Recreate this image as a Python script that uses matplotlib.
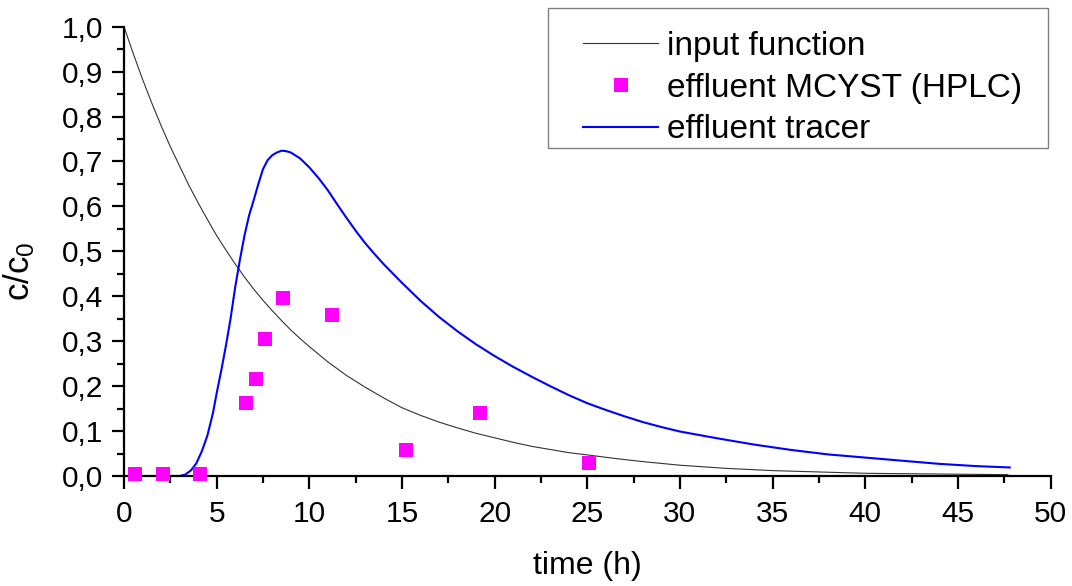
import matplotlib
matplotlib.use("Agg")
import matplotlib.pyplot as plt
from matplotlib.patches import Rectangle
from matplotlib.ticker import MultipleLocator, FuncFormatter

plt.rcParams['font.family'] = ['Liberation Sans', 'DejaVu Sans']
plt.rcParams['mathtext.default'] = 'regular'

# input function
t_input = [0, 0.5, 1, 1.5, 2, 2.5, 3, 3.5, 4, 4.5, 5, 5.5, 6, 6.5, 7, 7.5, 8, 8.5, 9,
           9.5, 10, 11, 12, 13, 14, 15, 16, 17, 18, 19, 20, 21, 22, 23, 24, 25, 26.5,
           28, 30, 32.5, 35, 37.5, 40, 42.5, 45, 47.7]
c_input = [1.0, 0.94, 0.883, 0.83, 0.78, 0.733, 0.69, 0.647, 0.608, 0.571, 0.535, 0.503,
           0.472, 0.443, 0.416, 0.391, 0.368, 0.346, 0.325, 0.306, 0.288, 0.254, 0.224,
           0.198, 0.174, 0.152, 0.135, 0.12, 0.107, 0.095, 0.085, 0.075, 0.066, 0.059,
           0.052, 0.047, 0.039, 0.032, 0.024, 0.017, 0.012, 0.009, 0.006, 0.005, 0.004,
           0.003]

# effluent tracer
t_tracer = [0, 3.0, 3.3, 3.6, 3.9, 4.2, 4.5, 4.8, 5.0, 5.25, 5.5, 5.75, 6.0, 6.25, 6.5,
            6.75, 7.0, 7.25, 7.5, 7.75, 8.0, 8.25, 8.5, 8.75, 9.0, 9.5, 10, 10.5, 11,
            11.5, 12, 12.5, 13, 13.5, 14, 15, 16, 17, 18, 19, 20, 21, 22, 23, 24, 25, 26,
            27, 28, 29, 30, 32, 34, 36, 38, 40, 42, 44, 46, 47.8]
c_tracer = [0, 0, 0.003, 0.012, 0.028, 0.055, 0.09, 0.14, 0.184, 0.235, 0.29, 0.35,
            0.42, 0.48, 0.535, 0.58, 0.614, 0.65, 0.683, 0.703, 0.714, 0.72, 0.724, 0.723,
            0.72, 0.707, 0.687, 0.663, 0.636, 0.605, 0.575, 0.546, 0.519, 0.495, 0.472,
            0.43, 0.39, 0.354, 0.322, 0.293, 0.267, 0.243, 0.221, 0.2, 0.18, 0.162, 0.147,
            0.133, 0.12, 0.109, 0.099, 0.084, 0.07, 0.058, 0.048, 0.041, 0.034, 0.027,
            0.022, 0.019]

# effluent MCYST (HPLC)
t_hplc = [0.6, 2.1, 4.1, 6.6, 7.1, 7.6, 8.6, 11.2, 15.2, 19.2, 25.1]
c_hplc = [0.005, 0.005, 0.005, 0.162, 0.216, 0.306, 0.397, 0.359, 0.057, 0.141, 0.028]

W, H = 1072, 586
fig = plt.figure(figsize=(W / 100, H / 100), dpi=100)
ax = fig.add_axes([124 / W, 1 - 476 / H, (1050.5 - 124) / W, (476 - 26.7) / H])

ax.plot(t_input, c_input, color='#333333', lw=0.8, label='input function')
ax.plot(t_hplc, c_hplc, 's', color='#ff00ff', markersize=10.5, markeredgewidth=0,
        label='effluent MCYST (HPLC)', clip_on=False, zorder=5)
ax.plot(t_tracer, c_tracer, color='#0000ff', lw=1.5, label='effluent tracer')

ax.set_xlim(0, 50)
ax.set_ylim(0, 1.0)
ax.xaxis.set_major_locator(MultipleLocator(5))
ax.xaxis.set_minor_locator(MultipleLocator(2.5))
ax.yaxis.set_major_locator(MultipleLocator(0.1))
ax.yaxis.set_minor_locator(MultipleLocator(0.05))
ax.yaxis.set_major_formatter(FuncFormatter(lambda v, p: ('%.1f' % v).replace('.', ',')))

for s in ['top', 'right']:
    ax.spines[s].set_visible(False)
for s in ['left', 'bottom']:
    ax.spines[s].set_linewidth(1.6)

ax.tick_params(which='major', direction='out', length=9, width=1.6, labelsize=21.5)
ax.tick_params(axis='x', which='major', pad=8)
ax.tick_params(axis='y', which='major', pad=6)
ax.tick_params(which='minor', direction='out', length=5, width=1.6)

ax.set_xlabel('time (h)', fontsize=23)
ax.set_ylabel('c/c$_0$', fontsize=25)
ax.xaxis.set_label_coords(0.5, -0.167)
ax.yaxis.set_label_coords(-0.094, 0.455)

# legend frame drawn separately so the box matches the original proportions
box = Rectangle((548 / W, 1 - 148 / H), 500 / W, 140 / H, transform=fig.transFigure,
                facecolor='white', edgecolor='#808080', linewidth=1.0,
                clip_on=False, zorder=8)
ax.add_patch(box)
leg = ax.legend(loc='upper left', bbox_to_anchor=(583 / W, 1 - 31 / H),
                bbox_transform=fig.transFigure, fontsize=24, numpoints=1,
                handlelength=2.25, handletextpad=0.27, labelspacing=0.32,
                borderpad=0, borderaxespad=0, frameon=False)
leg.set_zorder(10)

fig.savefig('out.png', dpi=100)
